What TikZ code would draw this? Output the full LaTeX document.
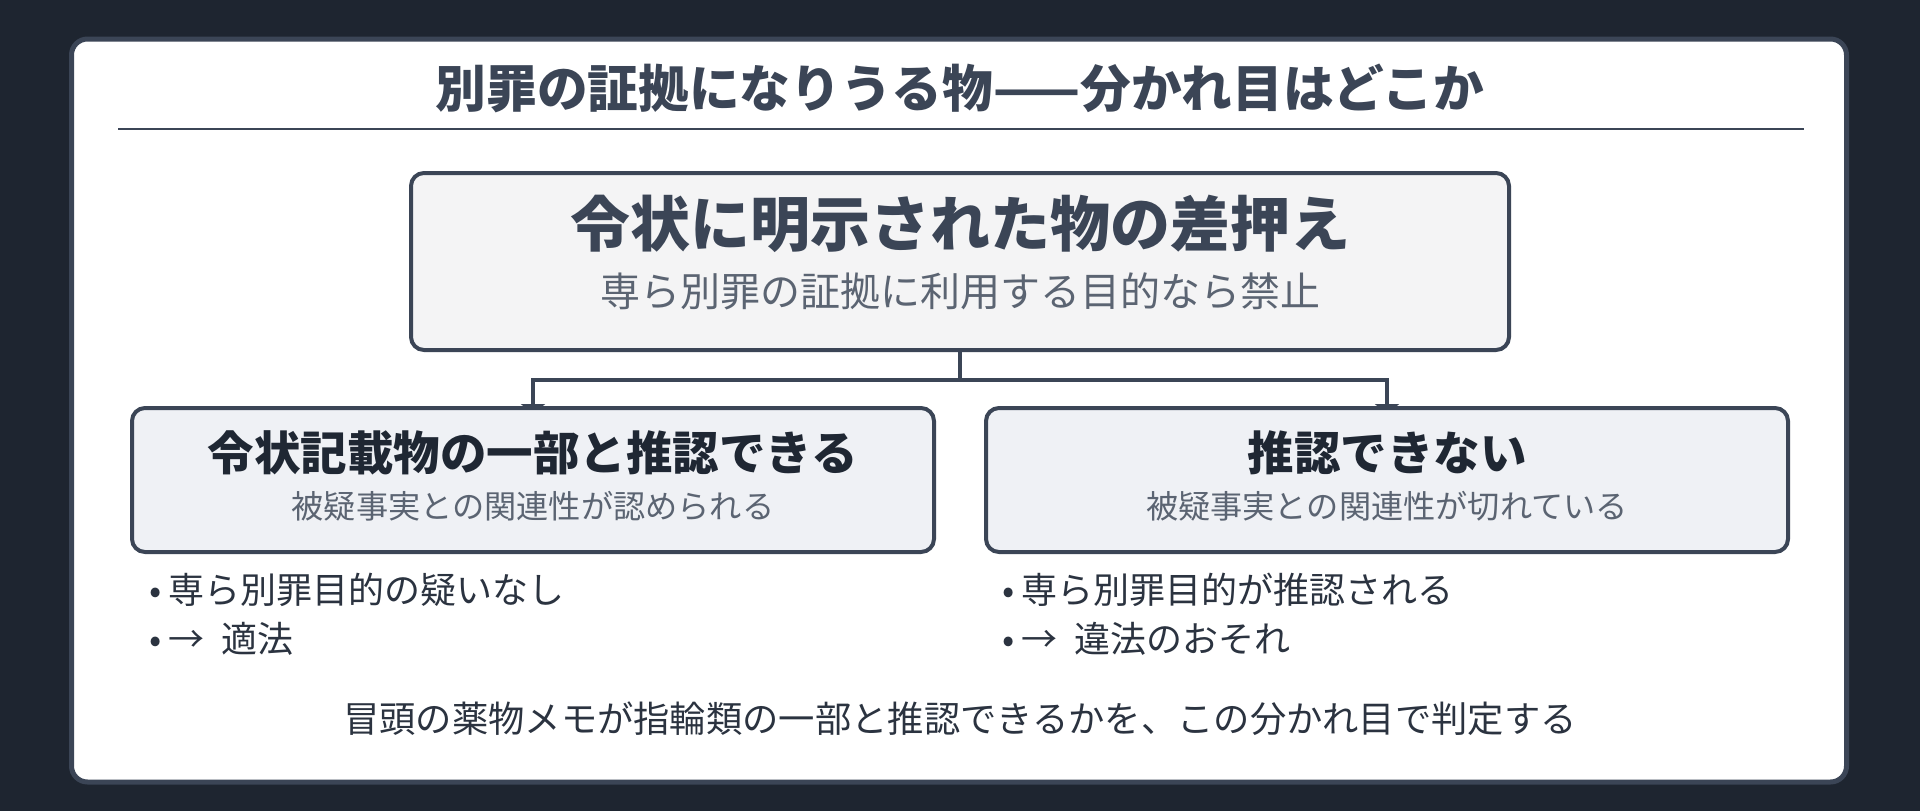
\documentclass[tikz,border=0pt]{standalone}
\usepackage{fontspec}
\setmainfont{Noto Sans CJK JP}
\usetikzlibrary{arrows.meta}
\pgfdeclarelayer{back}
\pgfdeclarelayer{bg}
\pgfsetlayers{back,bg,main}
\definecolor{bgc}{HTML}{1E2530}
\definecolor{edge}{HTML}{3B4556}
\definecolor{topfill}{HTML}{F4F4F5}
\definecolor{subfill}{HTML}{EFF1F5}
\definecolor{darktext}{HTML}{1F2733}
\definecolor{graytext}{HTML}{5B6472}
\definecolor{bodytext}{HTML}{2B3340}
\begin{document}
\begin{tikzpicture}[x=1pt,y=-1pt,
  card/.style={draw=edge,fill=white,line width=5pt,rounded corners=16pt,minimum width=1775pt,minimum height=743pt,inner sep=0pt},
  topbox/.style={draw=edge,fill=topfill,line width=4pt,rounded corners=13pt,minimum width=1098pt,minimum height=177pt,inner sep=0pt},
  subbox/.style={draw=edge,fill=subfill,line width=4pt,rounded corners=13pt,minimum width=802pt,minimum height=144pt,inner sep=0pt},
  titletext/.style={font=\bfseries\fontsize{50.7}{56}\selectfont,text=edge,inner sep=0pt},
  toptitle/.style={font=\bfseries\fontsize{60}{66}\selectfont,text=edge,inner sep=0pt},
  topsub/.style={font=\fontsize{40}{44}\selectfont,text=graytext,inner sep=0pt},
  boxtitle/.style={font=\bfseries\fontsize{46.5}{50}\selectfont,text=darktext,inner sep=0pt},
  boxsub/.style={font=\fontsize{32.2}{36}\selectfont,text=graytext,inner sep=0pt},
  bullettext/.style={font=\fontsize{36}{40}\selectfont,text=bodytext,inner sep=0pt,anchor=west},
  foottext/.style={font=\fontsize{36.3}{40}\selectfont,text=bodytext,inner sep=0pt},
  rule/.style={draw=edge,line width=2.5pt},
  conn/.style={draw=edge,line width=4pt,-{Triangle[length=10pt,width=24pt]},shorten >=-8pt}
]
\begin{pgfonlayer}{back}
\fill[bgc] (0,0) rectangle (1920,811);
\node[card] (card) at (959,410.5) {};
\end{pgfonlayer}
\useasboundingbox (0,0) rectangle (1920,811);
\node[titletext] (title) at (960,88) {別罪の証拠になりうる物——分かれ目はどこか};
\coordinate (rl) at (118,129);
\coordinate (rr) at (1804,129);
\draw[rule] (rl) -- (rr);
\node[topbox] (top) at (960,261.5) {};
\node[toptitle] (toptl) at (960,224) {令状に明示された物の差押え};
\node[topsub] (topsb) at (960,291) {専ら別罪の証拠に利用する目的なら禁止};
\node[subbox] (lbox) at (533,480) {};
\node[subbox] (rbox) at (1387,480) {};
\node[boxtitle] (ltl) at (533,453) {令状記載物の一部と推認できる};
\node[boxsub] (lsb) at (533,506) {被疑事実との関連性が認められる};
\node[boxtitle] (rtl) at (1387,453) {推認できない};
\node[boxsub] (rsb) at (1387,506) {被疑事実との関連性が切れている};
\coordinate (j) at (960,380);
\begin{pgfonlayer}{bg}
\draw[conn] (top.south) -- (j) -| (lbox.north);
\draw[conn] (top.south) -- (j) -| (rbox.north);
\end{pgfonlayer}
\node[bullettext] (l1) at (149,590) {•\hspace{7pt}専ら別罪目的の疑いなし};
\node[bullettext] (l2) at (149,639) {•\hspace{7pt}→\hspace{17pt}適法};
\node[bullettext] (r1) at (1002,590) {•\hspace{7pt}専ら別罪目的が推認される};
\node[bullettext] (r2) at (1002,639) {•\hspace{7pt}→\hspace{17pt}違法のおそれ};
\node[foottext] (foot) at (960,719) {冒頭の薬物メモが指輪類の一部と推認できるかを、この分かれ目で判定する};
\end{tikzpicture}
\end{document}
